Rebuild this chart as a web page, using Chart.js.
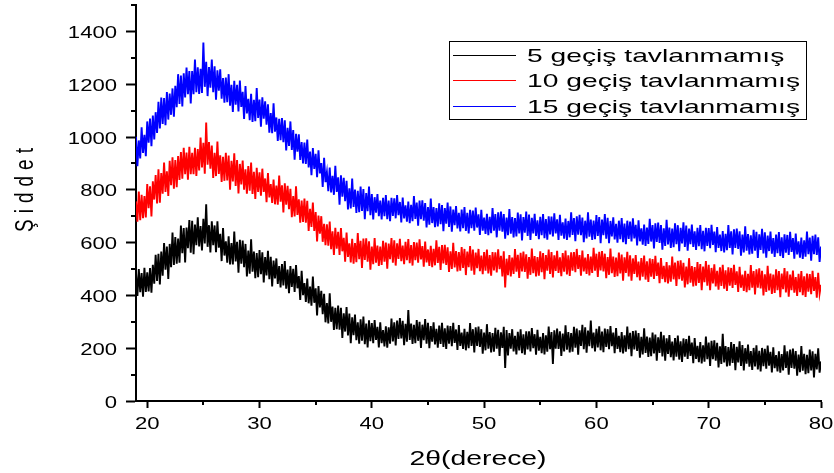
<!DOCTYPE html>
<html>
<head>
<meta charset="utf-8">
<script src="https://cdn.jsdelivr.net/npm/chart.js@4.4.1/dist/chart.umd.min.js"></script>
<style>
  html, body { margin: 0; padding: 0; background: #fff; }
  #wrap { width: 834px; height: 473px; }
</style>
</head>
<body>
<div id="wrap"><canvas id="chart1"></canvas></div>
<script>
const seriesLabels = ['5 geçiş tavlanmamış', '10 geçiş tavlanmamış', '15 geçiş tavlanmamış'];
const seriesColors = ['#000000', '#ff0000', '#0000ff'];

// 2θ grid of the scan: 19 .. 80 degrees, 0.125 step
const angleStart = 19;
const angleStep = 0.125;

const xTickLabels = [20, 30, 40, 50, 60, 70, 80];
const xMinorTicks = [25, 35, 45, 55, 65, 75];
const yTickLabels = [0, 200, 400, 600, 800, 1000, 1200, 1400];
const yMinorTicks = [100, 300, 500, 700, 900, 1100, 1300, 1500];

// intensity, one row per degree (19 .. 79), last value at 80
const gecis5 = [
  486,398,500,412,485,395,505,413,
  487,415,504,410,516,444,554,455,
  558,441,566,475,598,497,585,462,
  595,507,638,515,621,520,615,524,
  665,560,655,525,657,579,685,562,
  683,556,668,590,696,585,663,570,
  690,597,745,584,666,563,681,590,
  665,564,681,581,633,530,655,551,
  605,524,624,517,598,517,642,529,
  603,486,611,520,608,507,595,472,
  570,482,613,490,566,465,560,469,
  572,480,563,449,545,476,569,461,
  546,434,532,464,540,443,511,430,
  519,438,530,425,498,408,511,432,
  501,413,515,427,473,383,493,401,
  447,375,464,370,433,361,471,372,
  427,324,435,354,417,329,406,298,
  371,294,408,300,358,269,353,272,
  362,270,353,239,332,263,356,248,
  331,219,317,249,327,230,298,217,
  309,228,320,215,293,203,306,227,
  295,219,307,231,281,203,298,219,
  269,207,283,202,279,217,312,226,
  298,210,305,235,314,237,304,211,
  292,225,345,231,293,216,289,219,
  307,228,300,201,289,230,310,217,
  296,200,284,225,298,214,273,202,
  286,216,296,205,275,197,286,217,
  284,208,296,220,271,193,288,209,
  259,197,273,192,262,200,295,209,
  272,184,279,209,282,205,272,179,
  259,192,291,198,261,184,257,187,
  277,198,270,171,260,201,281,125,
  269,173,257,198,272,188,247,176,
  262,192,272,181,253,175,264,195,
  264,188,276,200,253,175,270,191,
  243,181,257,176,249,187,282,196,
  261,140,268,198,274,197,264,171,
  255,188,287,194,261,184,257,187,
  281,202,274,175,268,209,289,196,
  279,183,267,208,305,200,259,188,
  273,203,283,192,263,185,274,205,
  272,196,284,208,259,181,276,197,
  247,185,261,180,249,187,282,196,
  258,170,265,195,267,190,257,164,
  243,176,275,182,244,167,240,170,
  259,180,252,153,241,182,262,169,
  249,153,237,178,250,166,225,154,
  238,168,248,157,226,148,237,168,
  235,159,247,171,221,143,238,159,
  209,147,223,142,211,149,244,158,
  221,133,228,158,230,153,220,127,
  207,140,255,146,208,131,204,134,
  223,144,216,117,205,146,226,133,
  212,116,200,141,214,130,189,118,
  201,131,211,120,190,112,201,132,
  198,122,210,134,186,108,203,124,
  174,112,188,107,178,116,211,125,
  188,100,195,125,199,122,189,96,
  176,109,208,115,179,102,175,105,
  195,116,188,89,179,120,200,107,
  150
];

const gecis10 = [
  756,679,793,685,781,692,776,695,
  822,730,813,699,832,763,856,748,
  878,751,863,785,903,792,870,777,
  910,817,923,804,913,810,928,837,
  943,842,959,859,941,838,963,859,
  940,859,959,852,954,873,998,885,
  978,861,1055,895,981,880,968,845,
  940,852,983,860,931,830,925,834,
  940,835,930,800,910,832,938,815,
  913,786,898,820,911,800,878,785,
  890,797,903,784,868,765,883,792,
  866,778,880,792,843,753,863,771,
  822,750,839,745,816,744,854,755,
  817,714,825,744,815,727,804,696,
  776,699,813,705,764,675,759,678,
  767,675,758,644,728,659,752,644,
  716,604,702,634,700,603,671,590,
  669,588,680,575,643,553,656,577,
  641,553,655,567,618,528,638,546,
  597,525,614,520,598,526,636,537,
  607,504,615,534,616,528,605,497,
  585,518,617,524,589,512,585,515,
  607,528,600,501,596,537,617,524,
  609,513,597,538,614,530,589,518,
  603,533,613,522,591,513,602,533,
  600,524,612,536,587,509,604,525,
  574,512,588,507,576,514,609,523,
  584,496,591,521,592,515,582,489,
  567,500,599,506,568,491,564,494,
  583,504,576,477,566,507,587,494,
  574,478,562,503,576,492,551,480,
  564,494,574,483,553,475,564,495,
  563,487,575,499,550,472,567,430,
  539,477,553,472,543,481,576,490,
  554,466,561,491,566,489,556,463,
  545,478,577,484,549,472,545,475,
  567,488,560,461,553,494,574,481,
  564,468,552,493,569,485,544,473,
  560,490,570,479,552,474,563,494,
  564,488,576,500,553,475,570,491,
  543,481,557,476,547,485,580,494,
  558,470,565,495,568,491,558,465,
  545,478,577,484,547,470,543,473,
  562,483,555,456,544,485,565,472,
  552,456,540,481,553,469,528,457,
  541,471,551,460,529,451,540,471,
  538,462,550,474,524,446,541,462,
  512,450,526,445,514,452,547,461,
  524,436,531,461,533,456,523,430,
  509,442,541,448,511,434,507,437,
  526,447,519,420,509,450,530,437,
  516,420,504,445,518,434,493,422,
  506,436,516,425,495,417,506,437,
  504,428,516,440,491,413,508,429,
  479,417,493,412,482,420,515,429,
  492,404,499,429,503,426,493,400,
  480,413,512,419,483,406,479,409,
  499,420,492,393,483,424,504,411,
  491,395,479,420,494,410,469,398,
  482,412,492,401,472,394,483,414,
  481,405,493,417,469,391,486,407,
  440
];

const gecis15 = [
  1001,889,987,919,1037,940,1008,927,
  1059,978,1070,965,1081,991,1094,1015,
  1133,1032,1149,1049,1148,1045,1170,1066,
  1165,1084,1184,1077,1194,1113,1238,1125,
  1233,1116,1241,1150,1263,1162,1250,1127,
  1250,1162,1293,1170,1264,1163,1258,1167,
  1358,1190,1285,1155,1265,1187,1293,1170,
  1268,1141,1253,1175,1256,1145,1223,1130,
  1225,1132,1238,1119,1198,1095,1213,1122,
  1198,1097,1214,1114,1171,1068,1193,1089,
  1145,1064,1164,1057,1141,1060,1185,1072,
  1142,1039,1150,1069,1135,1047,1124,1016,
  1091,1014,1128,1020,1074,985,1069,988,
  1072,980,1063,949,1035,966,1059,951,
  1026,914,1012,944,1010,913,981,900,
  979,898,990,885,945,855,958,879,
  936,848,950,862,901,811,921,829,
  867,795,884,790,853,781,891,792,
  847,744,855,774,845,757,834,726,
  806,729,843,735,801,712,796,715,
  812,720,803,689,788,719,812,704,
  784,688,772,713,784,700,759,688,
  770,700,780,689,759,681,770,701,
  768,692,780,704,754,676,771,692,
  741,679,755,674,743,681,776,690,
  752,664,759,689,760,683,750,657,
  735,668,767,674,735,658,731,661,
  749,670,742,643,731,672,752,659,
  737,641,725,666,738,654,713,642,
  725,655,735,644,713,635,724,655,
  721,645,733,657,707,629,724,645,
  695,633,709,628,698,636,731,645,
  708,620,715,645,718,641,708,615,
  695,628,727,634,697,620,693,623,
  714,635,707,608,697,638,718,625,
  706,610,694,635,709,625,684,613,
  698,628,708,617,689,611,700,631,
  699,623,711,635,688,610,705,626,
  677,615,691,610,682,620,715,629,
  693,605,700,630,705,628,695,602,
  683,616,715,622,687,610,683,613,
  704,625,697,598,687,628,708,615,
  694,598,682,623,696,612,671,600,
  683,613,693,602,672,594,683,614,
  680,604,692,616,667,589,684,605,
  654,592,668,587,657,595,690,604,
  666,578,673,603,676,599,666,573,
  654,587,686,593,657,580,653,583,
  673,594,666,567,656,597,677,584,
  665,569,653,594,668,584,643,572,
  656,586,666,575,645,567,656,587,
  655,579,667,591,642,564,659,580,
  630,568,644,563,633,571,666,580,
  643,555,650,580,653,576,643,550,
  630,563,662,569,632,555,628,558,
  648,569,641,542,631,572,652,559,
  639,543,627,568,642,558,617,546,
  630,560,640,549,620,542,631,562,
  629,553,641,565,617,539,634,555,
  605,543,619,538,609,547,642,556,
  619,531,626,556,630,553,620,527,
  585
];

const angles = [];
for (let i = 0; i < gecis5.length; i++) angles.push(angleStart + i * angleStep);

function toPoints(vals) {
  return vals.map((v, i) => ({ x: angles[i], y: v }));
}

const FONT = '"Liberation Sans", Arial, sans-serif';

// the source picture is stretched sideways, so text is drawn wider than tall
function wideText(ctx, text, x, y, sx, align) {
  ctx.save();
  ctx.translate(x, y);
  ctx.scale(sx, 1);
  ctx.textAlign = align;
  ctx.textBaseline = 'alphabetic';
  ctx.fillText(text, 0, 0);
  ctx.restore();
}

const decorations = {
  id: 'decorations',
  afterDraw(chart) {
    const ctx = chart.ctx;
    const xs = chart.scales.x, ys = chart.scales.y;
    const area = chart.chartArea;
    ctx.save();
    ctx.fillStyle = '#000';
    ctx.strokeStyle = '#000';

    // minor ticks
    ctx.lineWidth = 2;
    ctx.beginPath();
    yMinorTicks.forEach(v => {
      const py = Math.round(ys.getPixelForValue(v));
      ctx.moveTo(area.left - 5, py);
      ctx.lineTo(area.left, py);
    });
    xMinorTicks.forEach(v => {
      const px = Math.round(xs.getPixelForValue(v));
      ctx.moveTo(px, area.bottom);
      ctx.lineTo(px, area.bottom + 4);
    });
    ctx.stroke();

    // tick labels
    ctx.font = '17px ' + FONT;
    yTickLabels.forEach(v => {
      wideText(ctx, String(v), area.left - 19, ys.getPixelForValue(v) + 6.5, 1.3, 'right');
    });
    xTickLabels.forEach(v => {
      wideText(ctx, String(v), xs.getPixelForValue(v), area.bottom + 28, 1.3, 'center');
    });

    // axis titles
    ctx.font = '21px ' + FONT;
    const xt = '2θ(derece)';
    wideText(ctx, xt, 478, 465, 137 / ctx.measureText(xt).width, 'center');

    ctx.font = '19px ' + FONT;
    const yt = 'Şiddet';
    const gap = 6;
    let total = 0;
    for (const ch of yt) total += ctx.measureText(ch).width;
    total += gap * (yt.length - 1);
    ctx.save();
    ctx.translate(33, 190);
    ctx.scale(1.4, 1);
    ctx.rotate(-Math.PI / 2);
    ctx.textAlign = 'left';
    let cx = -total / 2;
    for (const ch of yt) {
      ctx.fillText(ch, cx, 0);
      cx += ctx.measureText(ch).width + gap;
    }
    ctx.restore();

    // legend box
    ctx.lineWidth = 1;
    ctx.strokeRect(449.5, 41.5, 357, 78);
    ctx.font = '19px ' + FONT;
    const sx = 273 / ctx.measureText(seriesLabels[2]).width;
    const rows = [55, 80, 106];
    chart.data.datasets.forEach((ds, i) => {
      ctx.strokeStyle = ds.borderColor;
      ctx.beginPath();
      ctx.moveTo(453, rows[i] + 0.5);
      ctx.lineTo(516, rows[i] + 0.5);
      ctx.stroke();
      ctx.fillStyle = '#000';
      wideText(ctx, ds.label, 527, rows[i] + 7, sx, 'left');
    });
    ctx.restore();
  }
};

const ctx1 = document.getElementById('chart1').getContext('2d');

const chart1 = new Chart(ctx1, {
  type: 'line',
  data: {
    datasets: [gecis5, gecis10, gecis15].map((vals, i) => ({
      label: seriesLabels[i],
      data: toPoints(vals),
      borderColor: seriesColors[i],
      backgroundColor: seriesColors[i],
      borderWidth: 1.9,
      pointRadius: 0,
      tension: 0,
      fill: false,
      order: 2 - i
    }))
  },
  options: {
    responsive: true,
    maintainAspectRatio: false,
    animation: false,
    events: [],
    layout: { padding: { left: 126, right: 13, top: 5, bottom: 65 } },
    plugins: {
      legend: { display: false },
      tooltip: { enabled: false }
    },
    scales: {
      x: {
        type: 'linear',
        min: 19,
        max: 80,
        afterBuildTicks: s => { s.ticks = xTickLabels.map(v => ({ value: v })); },
        ticks: { display: false },
        grid: { display: true, drawOnChartArea: false, drawTicks: true, tickLength: 7, tickWidth: 2, tickColor: '#000' },
        border: { display: true, color: '#000', width: 2 }
      },
      y: {
        type: 'linear',
        min: 0,
        max: 1500,
        afterBuildTicks: s => { s.ticks = yTickLabels.map(v => ({ value: v })); },
        ticks: { display: false },
        grid: { display: true, drawOnChartArea: false, drawTicks: true, tickLength: 10, tickWidth: 2, tickColor: '#000' },
        border: { display: true, color: '#000', width: 2 }
      }
    }
  },
  plugins: [decorations]
});
</script>
</body>
</html>
